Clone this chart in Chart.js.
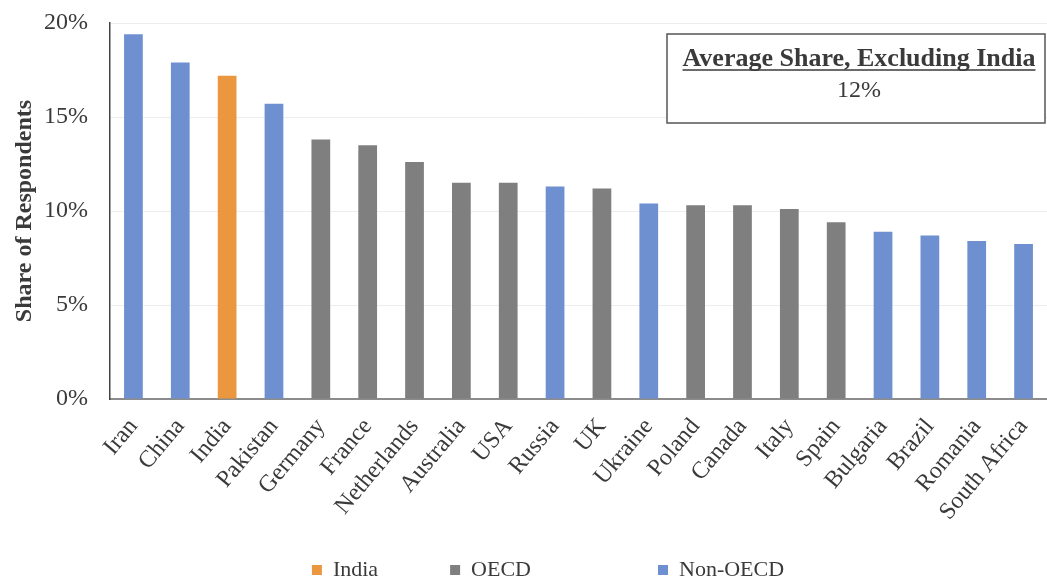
<!DOCTYPE html>
<html>
<head>
<meta charset="utf-8">
<script src="https://cdn.jsdelivr.net/npm/chart.js@4/dist/chart.umd.min.js"></script>
<style>
html,body{margin:0;padding:0;background:#fff;}
canvas{display:block;}
</style>
</head>
<body>
<canvas id="c" width="1047" height="583"></canvas>
<script>
const categories = ["Iran","China","India","Pakistan","Germany","France","Netherlands","Australia","USA","Russia","UK","Ukraine","Poland","Canada","Italy","Spain","Bulgaria","Brazil","Romania","South Africa"];
const groups = ["Non-OECD","Non-OECD","India","Non-OECD","OECD","OECD","OECD","OECD","OECD","Non-OECD","OECD","Non-OECD","OECD","OECD","OECD","OECD","Non-OECD","Non-OECD","Non-OECD","Non-OECD"];
const shares = [19.4,17.9,17.2,15.7,13.8,13.5,12.6,11.5,11.5,11.3,11.2,10.4,10.3,10.3,10.1,9.4,8.9,8.7,8.4,8.25];
const yTicks = [0,5,10,15,20];
const seriesNames = ["India","OECD","Non-OECD"];
const seriesColors = {"India":"#EA973F","OECD":"#7F7F7F","Non-OECD":"#6F90D0"};
const annotationTitle = "Average Share, Excluding India";
const annotationValue = "12%";

const FONT = "'Liberation Serif', 'Times New Roman', serif";
const TEXT = '#3a3a3a';
const RIGHT_OVERFLOW = -14;

const datasets = seriesNames.map(name => ({
  label: name,
  data: shares.map((v,i) => groups[i] === name ? v : null),
  backgroundColor: seriesColors[name],
  borderWidth: 0,
  barPercentage: 0.4,
  categoryPercentage: 1.0
}));

// extra trailing space after legend entries to reproduce the uneven legend spacing
const legendGap = {"India": 12, "OECD": 22, "Non-OECD": 0};

const boxPlugin = {
  id: 'avgBox',
  afterLayout(chart) {
    if (chart.legend) {
      chart.legend.left += 35;
      chart.legend.top += 8;
      chart.legend.bottom += 8;
    }
  },
  afterDraw(chart) {
    const ctx = chart.ctx;
    const x0 = 667, y0 = 34, x1 = 1045, y1 = 123;
    ctx.save();
    ctx.fillStyle = '#fff';
    ctx.fillRect(x0, y0, x1 - x0, y1 - y0);
    ctx.strokeStyle = '#555';
    ctx.lineWidth = 1.5;
    ctx.strokeRect(x0, y0, x1 - x0, y1 - y0);
    ctx.fillStyle = TEXT;
    ctx.textAlign = 'center';
    ctx.textBaseline = 'alphabetic';
    ctx.font = "bold 26px " + FONT;
    const cx = 859;
    ctx.fillText(annotationTitle, cx, 66);
    const w = ctx.measureText(annotationTitle).width;
    ctx.strokeStyle = TEXT;
    ctx.lineWidth = 1.5;
    ctx.beginPath();
    ctx.moveTo(cx - w/2, 70);
    ctx.lineTo(cx + w/2, 70);
    ctx.stroke();
    ctx.font = "24px " + FONT;
    ctx.fillText(annotationValue, cx, 97);
    ctx.restore();
  }
};

new Chart(document.getElementById('c'), {
  type: 'bar',
  data: { labels: categories, datasets },
  options: {
    responsive: false,
    animation: false,
    layout: { padding: { left: 0, right: RIGHT_OVERFLOW, top: 23, bottom: 0 } },
    plugins: {
      legend: {
        position: 'bottom',
        labels: {
          font: { family: FONT, size: 22 },
          color: TEXT,
          boxWidth: 10,
          boxHeight: 10,
          padding: 6,
          generateLabels(chart) {
            const items = Chart.defaults.plugins.legend.labels.generateLabels(chart);
            items.forEach(it => { it.text = it.text + ' '.repeat(legendGap[it.text] || 0); });
            return items;
          }
        }
      },
      tooltip: { enabled: false }
    },
    scales: {
      x: {
        stacked: true,
        afterFit(axis) { axis.height = 146; axis.paddingRight = RIGHT_OVERFLOW; axis.paddingLeft = 0; },
        grid: { display: false, drawTicks: false },
        border: { display: true, color: '#8c8c8c', width: 2 },
        ticks: {
          color: TEXT,
          font: { family: FONT, size: 24 },
          minRotation: 50,
          maxRotation: 50,
          autoSkip: false,
          padding: 14
        }
      },
      y: {
        stacked: true,
        min: 0,
        max: 20,
        afterFit(axis) { axis.width = 110; axis.paddingTop = 0; axis.paddingBottom = 0; axis.paddingRight = RIGHT_OVERFLOW; },
        afterBuildTicks(axis) { axis.ticks = yTicks.map(v => ({ value: v })); },
        grid: { color: '#ededed', drawTicks: false },
        border: { display: true, color: '#444', width: 1.5 },
        ticks: {
          color: TEXT,
          font: { family: FONT, size: 24 },
          padding: 22,
          callback: v => v + '%'
        },
        title: {
          display: true,
          text: 'Share of Respondents',
          color: TEXT,
          font: { family: FONT, size: 24, weight: 'bold' },
          padding: { top: 10, bottom: 0 }
        }
      }
    }
  },
  plugins: [boxPlugin]
});
</script>
</body>
</html>
